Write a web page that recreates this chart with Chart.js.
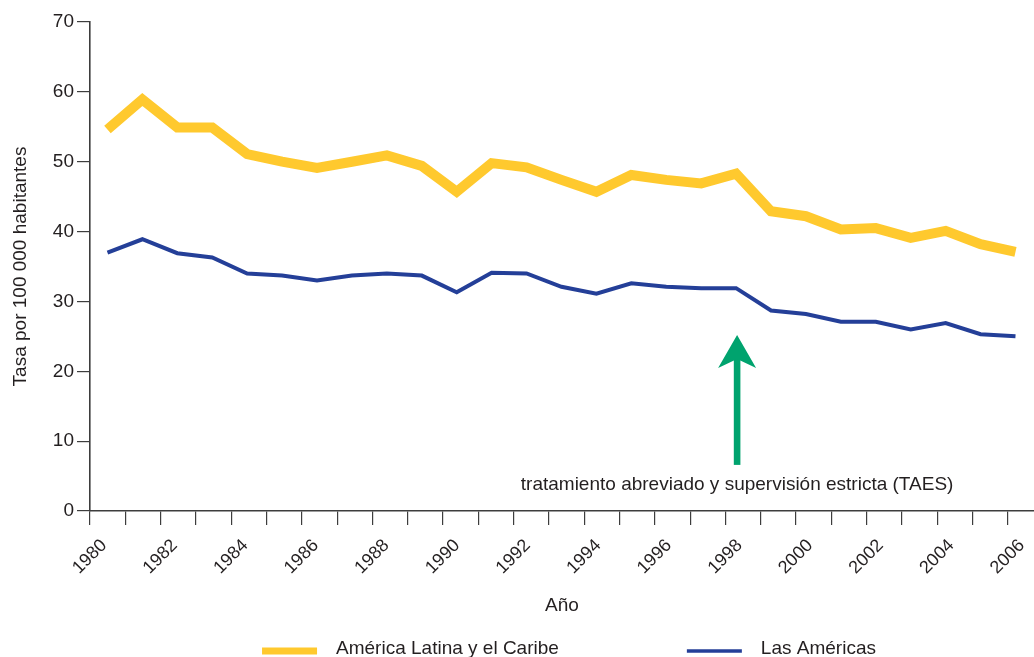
<!DOCTYPE html>
<html lang="es">
  <head>
    <meta charset="UTF-8" />
    <meta name="viewport" content="width=device-width, initial-scale=1.0" />
    <script src="https://cdn.jsdelivr.net/npm/chart.js@4"></script>
    <title>Tasa por 100 000 habitantes</title>
    <style>
      body { margin: 0; background: #fff; }
    </style>
  </head>
  <body>
    <canvas id="myChart" width="1034" height="657"></canvas>

    <script>
      // data
      const years = [1980, 1981, 1982, 1983, 1984, 1985, 1986, 1987, 1988, 1989,
        1990, 1991, 1992, 1993, 1994, 1995, 1996, 1997, 1998, 1999,
        2000, 2001, 2002, 2003, 2004, 2005, 2006];
      const latinAmerica = [54.6, 58.9, 54.9, 54.9, 51.1, 50.0, 49.1, 50.0, 50.9, 49.4,
        45.7, 49.8, 49.2, 47.4, 45.7, 48.1, 47.4, 46.9, 48.3, 42.9,
        42.2, 40.3, 40.5, 39.1, 40.1, 38.2, 37.1];
      const americas = [37.0, 38.9, 36.9, 36.3, 34.0, 33.7, 33.0, 33.7, 34.0, 33.7,
        31.3, 34.1, 34.0, 32.1, 31.1, 32.6, 32.1, 31.9, 31.9, 28.7,
        28.2, 27.1, 27.1, 26.0, 26.9, 25.3, 25.0];
      const seriesNames = ["América Latina y el Caribe", "Las Américas"];
      const xTickYears = [1980, 1982, 1984, 1986, 1988, 1990, 1992, 1994, 1996, 1998, 2000, 2002, 2004, 2006];

      // TAES arrow (in axis units)
      const taesYear = 1998.33;
      const taesFrom = 6.6;
      const taesTo = 25.2;
      const taesTextY = 3.7;
      const taesText = "tratamiento abreviado y supervisión estricta (TAES)";

      const textColor = "#231f20";
      const axisColor = "#3d3d3d";
      const yellow = "#ffc92e";
      const blue = "#243f98";
      const green = "#00a36e";

      Chart.defaults.font.family = "'Liberation Sans', Arial, sans-serif";
      Chart.defaults.color = textColor;

      const taesArrow = {
        id: "taesArrow",
        afterDatasetsDraw(chart) {
          const ctx = chart.ctx;
          const x = chart.scales.x.getPixelForValue(taesYear);
          const yTip = chart.scales.y.getPixelForValue(taesTo);
          const yBase = chart.scales.y.getPixelForValue(taesFrom);
          ctx.save();
          ctx.fillStyle = green;
          ctx.fillRect(x - 3.3, yTip + 20, 6.6, yBase - yTip - 20);
          ctx.beginPath();
          ctx.moveTo(x, yTip);
          ctx.lineTo(x + 19, yTip + 33);
          ctx.lineTo(x, yTip + 24);
          ctx.lineTo(x - 19, yTip + 33);
          ctx.closePath();
          ctx.fill();
          ctx.font = "19px 'Liberation Sans', Arial, sans-serif";
          ctx.fillStyle = textColor;
          ctx.textAlign = "center";
          ctx.textBaseline = "middle";
          ctx.fillText(taesText, x, chart.scales.y.getPixelForValue(taesTextY));
          ctx.restore();
        }
      };

      // legend drawn under the axis title
      const bottomLegend = {
        id: "bottomLegend",
        afterDraw(chart) {
          const ctx = chart.ctx;
          const swatch = 55, gap = 19, between = 128;
          ctx.save();
          ctx.font = "19px 'Liberation Sans', Arial, sans-serif";
          const items = chart.data.datasets.map(ds => ({
            ds, w: ctx.measureText(ds.label).width
          }));
          let total = 0;
          items.forEach((it, i) => { total += swatch + gap + it.w + (i ? between : 0); });
          const area = chart.chartArea;
          let x = (area.left + area.right) / 2 + 7 - total / 2;
          const y = 651;
          items.forEach(it => {
            ctx.strokeStyle = it.ds.borderColor;
            ctx.lineWidth = it.ds.borderWidth === 10 ? 7 : 3.5;
            ctx.beginPath();
            ctx.moveTo(x, y);
            ctx.lineTo(x + swatch, y);
            ctx.stroke();
            ctx.fillStyle = textColor;
            ctx.textBaseline = "alphabetic";
            ctx.fillText(it.ds.label, x + swatch + gap, y + 3);
            x += swatch + gap + it.w + between;
          });
          ctx.restore();
        }
      };

      makeChart();
      function makeChart() {
        const ctx = document.getElementById("myChart").getContext("2d");
        const chart = new Chart(ctx, {
          type: "line",
          data: {
            datasets: [
              {
                label: seriesNames[0],
                data: years.map((yr, i) => ({ x: yr, y: latinAmerica[i] })),
                borderColor: yellow,
                backgroundColor: yellow,
                borderWidth: 10,
                borderJoinStyle: "miter",
                pointRadius: 0,
                xAxisID: "xd"
              },
              {
                label: seriesNames[1],
                data: years.map((yr, i) => ({ x: yr, y: americas[i] })),
                borderColor: blue,
                backgroundColor: blue,
                borderWidth: 4,
                borderJoinStyle: "miter",
                pointRadius: 0,
                xAxisID: "xd"
              }
            ]
          },
          options: {
            responsive: false,
            animation: false,
            layout: { padding: { top: 22, right: 0, bottom: 37, left: 0 } },
            plugins: {
              legend: { display: false },
              tooltip: { enabled: false }
            },
            scales: {
              // hidden axis that the data points sit on
              xd: {
                type: "linear",
                display: false,
                min: 1979.5,
                max: 2006.53
              },
              x: {
                type: "linear",
                position: "bottom",
                min: 1980,
                max: 2006.74,
                // a tick mark for every year
                afterBuildTicks: scale => {
                  scale.ticks = years.map(v => ({ value: v }));
                },
                afterFit: scale => { scale.height = 109; },
                ticks: {
                  autoSkip: false,
                  maxRotation: 45,
                  minRotation: 45,
                  labelOffset: 14,
                  padding: 10,
                  font: { size: 18 },
                  callback: v => (xTickYears.includes(v) ? String(v) : "")
                },
                grid: {
                  drawOnChartArea: false,
                  color: axisColor,
                  lineWidth: 1.2,
                  tickLength: 14
                },
                border: { color: axisColor, width: 1.6 },
                title: {
                  display: true,
                  text: "Año",
                  font: { size: 19 },
                  padding: { top: 0, bottom: 3 }
                }
              },
              y: {
                min: 0,
                max: 70,
                afterFit: scale => { scale.width = 90; },
                ticks: {
                  stepSize: 10,
                  padding: 3,
                  font: { size: 19 }
                },
                grid: {
                  drawOnChartArea: false,
                  color: axisColor,
                  lineWidth: 1.2,
                  tickLength: 13
                },
                border: { color: axisColor, width: 1.6 },
                title: {
                  display: true,
                  text: "Tasa por 100 000 habitantes",
                  font: { size: 19 },
                  padding: { top: 9, bottom: 0 }
                }
              }
            }
          },
          plugins: [taesArrow, bottomLegend]
        });
      }
    </script>
  </body>
</html>
